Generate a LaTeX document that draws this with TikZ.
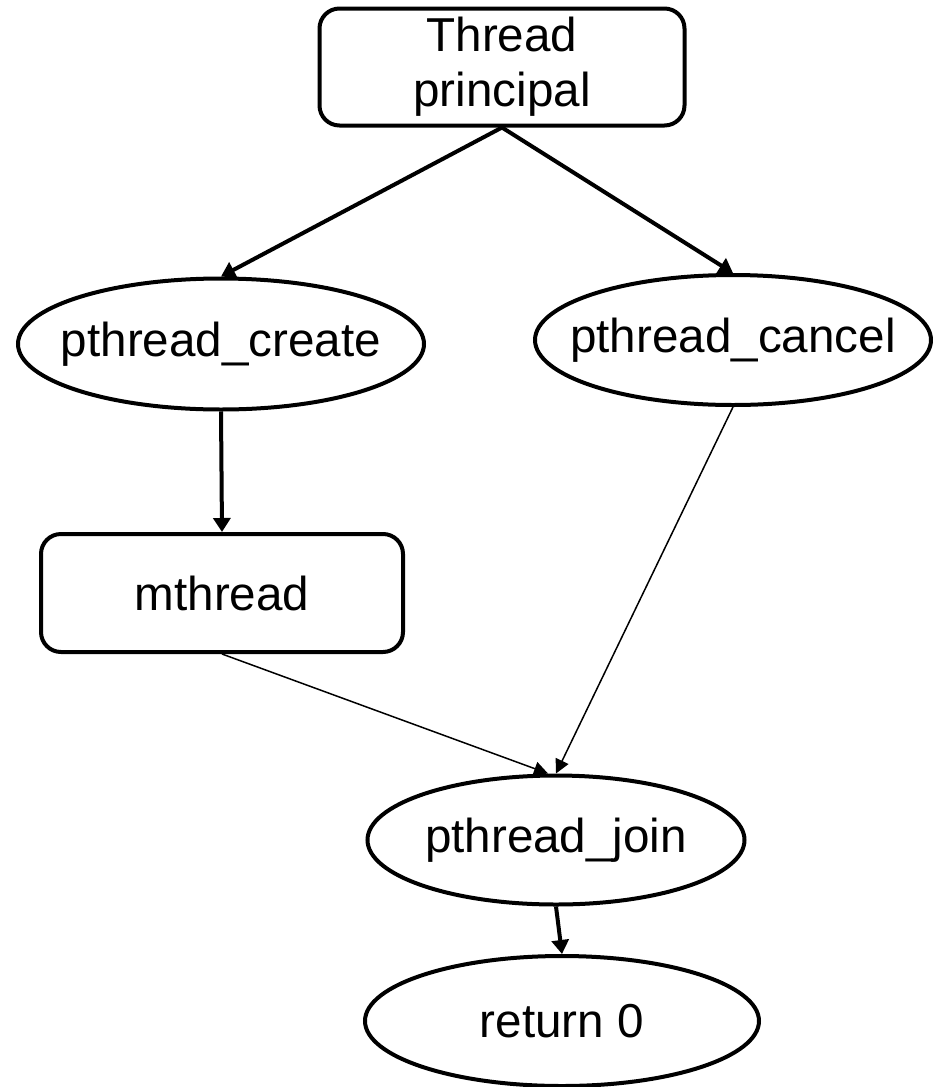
\documentclass[tikz,border=0pt]{standalone}
\usepackage{fontspec}
\setmainfont{Liberation Sans}
\usetikzlibrary{arrows.meta,shapes.geometric}

\begin{document}
\begin{tikzpicture}[
    x=0.5pt, y=-0.5pt,
    every node/.style={font=\fontsize{23.8pt}{27.5pt}\selectfont},
    box/.style={draw, line width=2pt, rounded corners=10pt, align=center, inner sep=0pt},
    call/.style={draw, ellipse, line width=2pt, inner sep=0pt},
    flow/.style={-{Triangle[length=7pt,width=8.5pt]}, line width=2pt},
    link/.style={-{Triangle[length=7pt,width=7pt]}, line width=0.75pt}
]
\useasboundingbox (0,0) rectangle (932,1087);
\node[box, minimum width=182.5pt, minimum height=58.5pt] (main) at (502,67) {Thread\\principal};
\node[call, minimum width=203pt, minimum height=65.5pt] (create) at (221,344) {\makebox[0pt]{pthread\_create}};
\node[call, minimum width=198pt, minimum height=65pt] (cancel) at (733,340) {\makebox[0pt]{pthread\_cancel}};
\node[box, minimum width=181pt, minimum height=59pt] (mthr) at (222,593) {\raisebox{-4pt}{mthread}};
\node[call, minimum width=188.5pt, minimum height=64.5pt] (join) at (556,840) {\makebox[0pt]{pthread\_join}};
\node[call, minimum width=197pt, minimum height=65pt] (ret) at (562,1021) {\makebox[0pt]{return 0}};
\draw[flow] (main.south) -- (create.north);
\draw[flow] (main.south) -- (cancel.north);
\draw[flow] (create.south) -- (mthr.north);
\draw[link] (mthr.south) -- ([xshift=-4pt]join.north);
\draw[link] (cancel.south) -- (join.north);
\draw[flow] (join.south) -- (ret.north);
\end{tikzpicture}
\end{document}
